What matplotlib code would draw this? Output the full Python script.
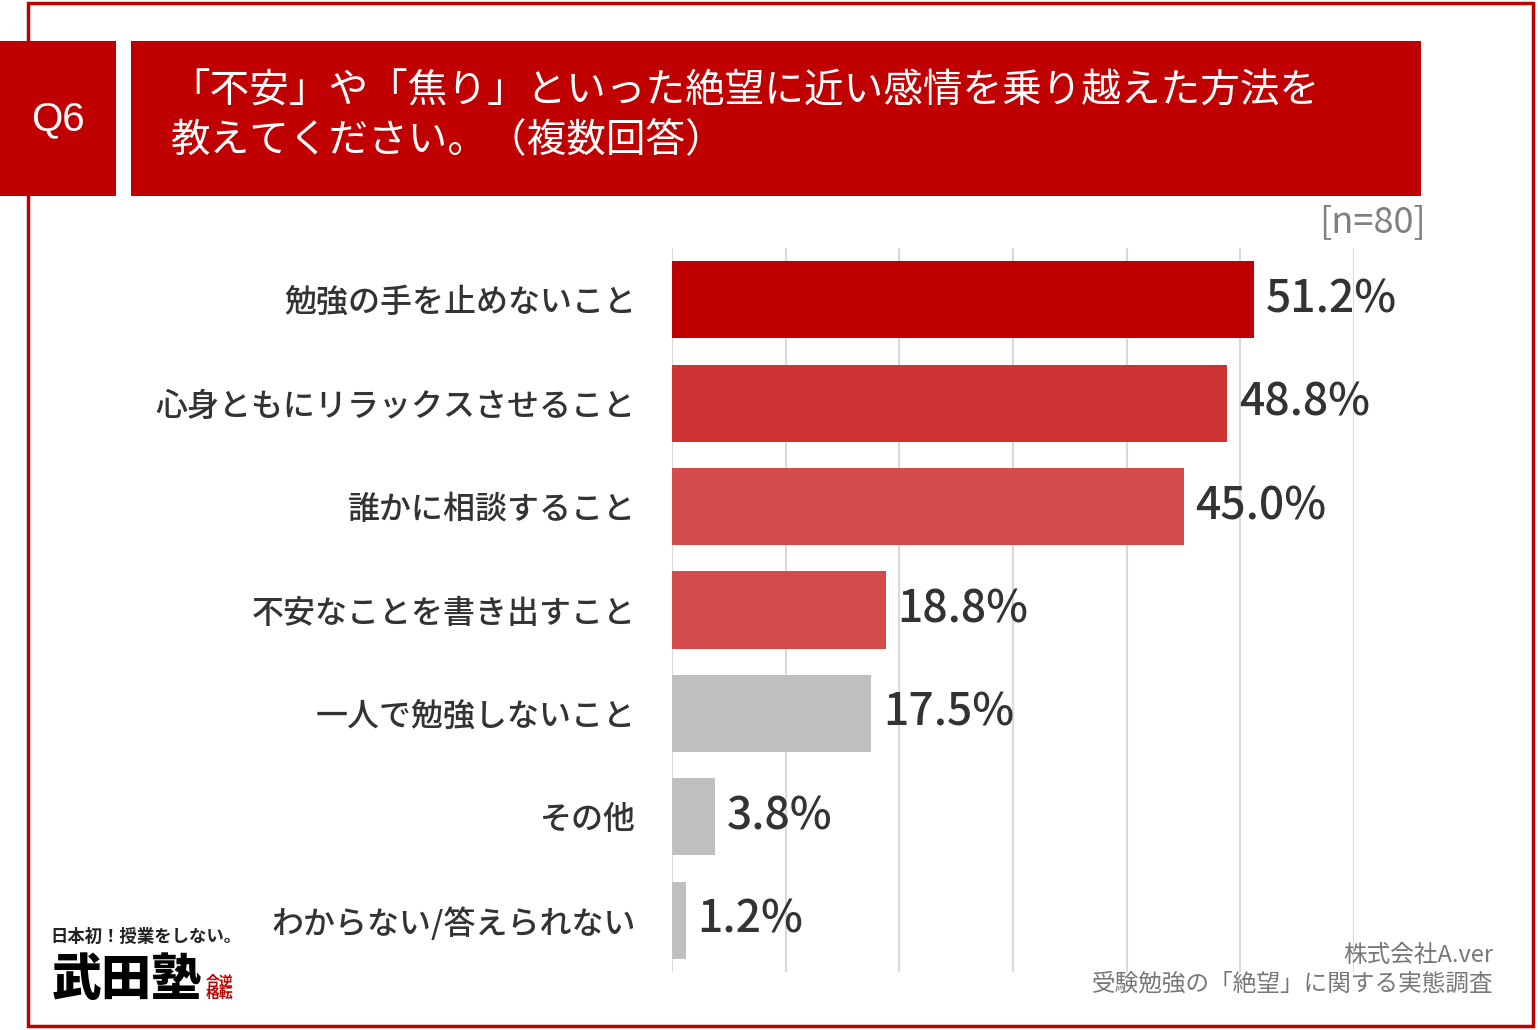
import matplotlib.pyplot as plt
from matplotlib.patches import Rectangle

plt.rcParams['font.family'] = ['Noto Sans CJK JP', 'DejaVu Sans']

# data
categories = ['勉強の手を止めないこと', '心身ともにリラックスさせること', '誰かに相談すること',
              '不安なことを書き出すこと', '一人で勉強しないこと', 'その他', 'わからない/答えられない']
values = [51.2, 48.8, 45.0, 18.8, 17.5, 3.8, 1.2]
bar_colors = ['#C00000', '#CD3333', '#D44B4B', '#D44B4B', '#BFBFBF', '#BFBFBF', '#BFBFBF']
grid_ticks = [0, 10, 20, 30, 40, 50, 60]

title_lines = ['「不安」や「焦り」といった絶望に近い感情を乗り越えた方法を',
               '教えてください。（複数回答）']
q_label = 'Q6'
n_label = '[n=80]'
source_lines = ['株式会社A.ver', '受験勉強の「絶望」に関する実態調査']

W, H = 1538, 1030
RED = '#C00000'
fig = plt.figure(figsize=(W / 100, H / 100), dpi=100)


def px(x, y):
    # pixel coords (top-left origin) -> figure fraction
    return x / W, 1 - y / H


def rect(x0, y0, x1, y1, **kw):
    fig.add_artist(Rectangle(px(x0, y1), (x1 - x0) / W, (y1 - y0) / H,
                             transform=fig.transFigure, **kw))


# outer frame
rect(28, 3, 1533, 1026, fill=False, edgecolor=RED, linewidth=2.5)

# header boxes
rect(0, 41, 116, 196, facecolor=RED, edgecolor='none')
rect(131, 41, 1421, 196, facecolor=RED, edgecolor='none')
fig.text(*px(58, 119), q_label, color='white', fontsize=29, ha='center', va='center',
         family=['Liberation Sans', 'DejaVu Sans'])
fig.text(*px(170, 92), title_lines[0], color='white', fontsize=28.5, ha='left', va='center')
fig.text(*px(170, 140), title_lines[1], color='white', fontsize=28.5, ha='left', va='center')

fig.text(*px(1426, 222), n_label, color='#808080', fontsize=26, ha='right', va='center')

# chart
ax_l, ax_r, ax_t, ax_b = 672, 1354, 248, 972
ax = fig.add_axes([ax_l / W, 1 - ax_b / H, (ax_r - ax_l) / W, (ax_b - ax_t) / H])
y = list(range(len(categories)))
ax.barh(y, values, height=0.745, color=bar_colors, zorder=2)
ax.set_xlim(0, 60)
ax.set_ylim(len(categories) - 0.5, -0.5)
ax.set_xticks(grid_ticks)
ax.set_xticklabels([])
ax.grid(axis='x', color='#D9D9D9', linewidth=1.5, zorder=0)
ax.tick_params(length=0)
ax.set_yticks(y)
ax.set_yticklabels(categories, fontsize=23, color='#333333', fontweight='medium')
ax.tick_params(axis='y', pad=26)
for s in ax.spines.values():
    s.set_visible(False)

for yi, v in zip(y, values):
    ax.annotate(f'{v:.1f}%', (v, yi), xytext=(12, 0), textcoords='offset pixels',
                ha='left', va='center', fontsize=32, fontweight='medium',
                color='#333333', annotation_clip=False, zorder=3)

# source
fig.text(*px(1493, 956), source_lines[0], color='#777777', fontsize=17, ha='right', va='center')
fig.text(*px(1493, 984), source_lines[1], color='#777777', fontsize=17, ha='right', va='center')

# logo
fig.text(*px(50, 937), '日本初！授業をしない。', color='#222222', fontsize=12.5,
         ha='left', va='center', fontweight='bold')
fig.text(*px(52, 980), '武田塾', color='black', fontsize=36, ha='left', va='center',
         fontweight='black')
fig.text(*px(220, 988), '合逆\n格転', color=RED, fontsize=10, ha='center', va='center',
         linespacing=0.9, fontweight='bold')

fig.savefig('out.png', dpi=100)
